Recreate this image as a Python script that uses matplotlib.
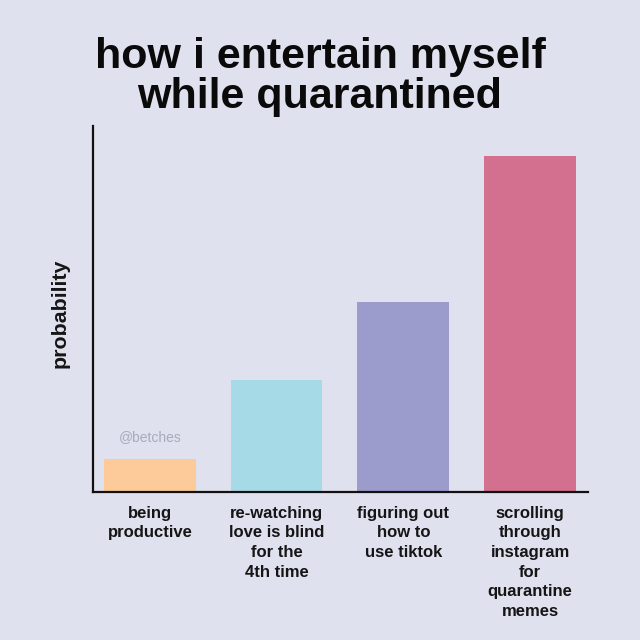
import numpy as np
import matplotlib
matplotlib.use("Agg")
import matplotlib.pyplot as plt

# chart values (arbitrary probability scale, 0..1)
categories = [
    "being\nproductive",
    "re-watching\nlove is blind\nfor the\n4th time",
    "figuring out\nhow to\nuse tiktok",
    "scrolling\nthrough\ninstagram\nfor\nquarantine\nmemes",
]
values = [0.09, 0.306, 0.519, 0.918]
colors = ["#FDCB99", "#A7DAE7", "#9C9CCC", "#D4708F"]

BG = "#E0E1EF"
plt.rcParams["font.family"] = ["Liberation Sans", "DejaVu Sans"]


def main():
    fig = plt.figure(figsize=(6.4, 6.4), dpi=100, facecolor=BG)
    ax = fig.add_axes([0.1453, 0.2313, 0.7734, 0.5719])
    ax.set_facecolor(BG)

    x = np.arange(len(categories))
    ax.bar(x, values, width=0.724, color=colors)
    ax.set_xlim(-0.449, 3.457)
    ax.set_ylim(0, 1)

    for side in ["top", "right"]:
        ax.spines[side].set_visible(False)
    for side in ["left", "bottom"]:
        ax.spines[side].set_linewidth(1.6)
        ax.spines[side].set_color("#111111")

    ax.set_yticks([])
    ax.set_xticks(x)
    ax.set_xticklabels(categories, fontsize=12, fontweight="bold",
                       linespacing=1.38, va="top", color="#151515")
    ax.tick_params(axis="x", length=0, pad=10)

    # y label placed by hand, sits a bit below the axis middle
    ax.text(-0.0667, 0.489, "probability", transform=ax.transAxes,
            rotation=90, ha="center", va="center", fontsize=15.4,
            fontweight="bold", color="#151515")

    ax.text(0, values[0] + 0.04, "@betches", ha="center", va="bottom",
            fontsize=10, color="#A9AABA")

    fig.text(0.5, 0.879, "how i entertain myself\nwhile quarantined",
             ha="center", va="center", fontsize=31, fontweight="bold",
             linespacing=1.0, color="#0A0A0A")

    fig.savefig("out.png", dpi=100, facecolor=BG)


if __name__ == "__main__":
    main()
